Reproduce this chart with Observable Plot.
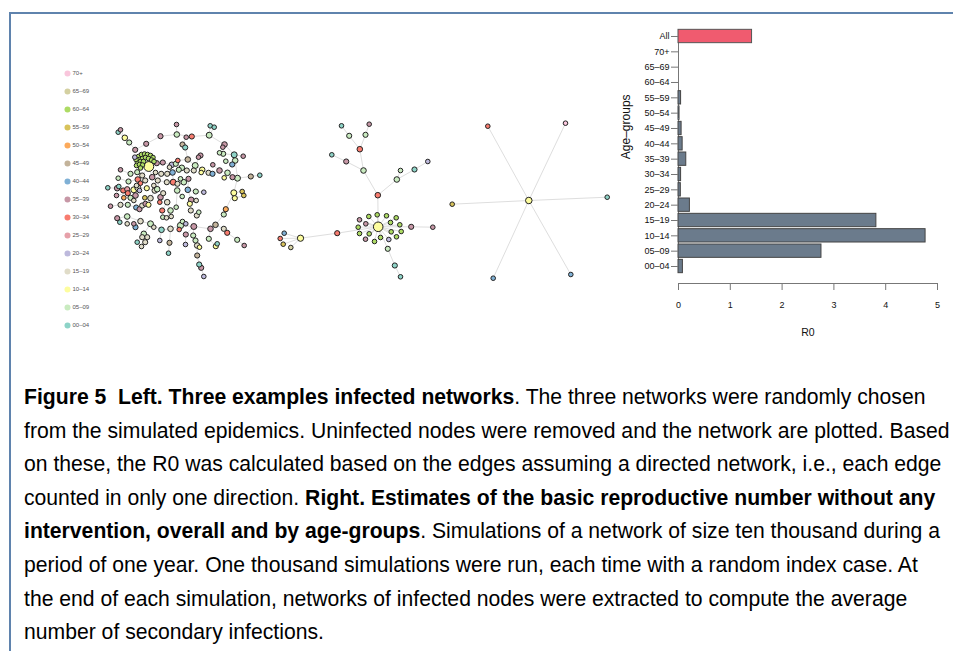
<!DOCTYPE html>
<html><head><meta charset="utf-8">
<script src="https://cdn.jsdelivr.net/npm/d3@7"></script>
<script src="https://cdn.jsdelivr.net/npm/@observablehq/plot@0.6"></script>
<style>
html,body{margin:0;padding:0;background:#fff;}
#page{position:relative;width:953px;height:651px;overflow:hidden;background:#fff;}
#frame{position:absolute;left:9px;top:12px;width:960px;height:660px;border-top:2px solid #5f83ad;border-left:2px solid #5f83ad;}
.layer{position:absolute;left:0;top:0;}
#caption{position:absolute;left:24px;top:380px;font-family:"Liberation Sans",Arial,sans-serif;font-size:18px;line-height:33.6px;color:#000;white-space:nowrap;}
#caption .ln{display:block;}
</style></head>
<body><div id="page"><div id="frame"></div><div id="legend" class="layer"></div><div id="nets" class="layer"></div><div id="bars" class="layer"></div>
<div id="caption">
<div class="ln"><span id="l1"><b>Figure 5&nbsp; Left. Three examples infected networks</b>. The three networks were randomly chosen</span></div>
<div class="ln"><span id="l2">from the simulated epidemics. Uninfected nodes were removed and the network are plotted. Based</span></div>
<div class="ln"><span>on these, the R0 was calculated based on the edges assuming a directed network, i.e., each edge</span></div>
<div class="ln"><span>counted in only one direction. <b>Right. Estimates of the basic reproductive number without any</b></span></div>
<div class="ln"><span><b>intervention, overall and by age-groups</b>. Simulations of a network of size ten thousand during a</span></div>
<div class="ln"><span>period of one year. One thousand simulations were run, each time with a random index case. At</span></div>
<div class="ln"><span>the end of each simulation, networks of infected nodes were extracted to compute the average</span></div>
<div class="ln"><span>number of secondary infections.</span></div>
</div>
</div>
<script>
// ---------- data ----------
const ageGroups = ["00–04","05–09","10–14","15–19","20–24","25–29","30–34","35–39","40–44","45–49","50–54","55–59","60–64","65–69","70+"];
const ageColors = ["#8dd3c7","#c9ebc0","#fdfd9e","#e0dcc8","#bdb9dc","#e6a0a9","#f87c6f","#c797a6","#7fb0d5","#c3b39a","#fcaa5b","#d8c35b","#addb64","#d4d0a1","#f9c6dc"];

const r0Groups = ["All","70+","65–69","60–64","55–59","50–54","45–49","40–44","35–39","30–34","25–29","20–24","15–19","10–14","05–09","00–04"];
const r0Values = [1.42,0,0,0,0.05,0.02,0.06,0.08,0.15,0.05,0.045,0.22,3.82,4.77,2.76,0.085];
const r0Ticks = [0,1,2,3,4,5];

// infection networks: each chain is a list of nodes [layoutX, layoutY, ageIndex]; consecutive nodes are linked
const net1Chains = [
[[134.7,149.3,7],[145.7,143.3,7],[160,135.7,7],[176.3,134,1],[191.3,136,6],[208.7,134.7,1],[224,144,7],[233.7,154.3,0],[234.7,160,1],[237,177.7,1],[233.3,192.3,2],[225.3,208.7,10],[223.3,214,1],[215,224.3,9],[210,228.3,7],[193.3,226,7],[180,225,1],[170,228.3,3],[161,229.3,0],[150,223.3,1],[140,220.7,3],[126.7,216,1],[116.7,217.7,7]],
[[176,124,7],[176.3,134,1]],
[[117.7,131.7,0],[124.3,137.3,2],[128.7,142,1],[134.7,149.3,7]],
[[120,129.3,7],[124.3,137.3,2]],
[[209.7,125.3,0],[208.7,134.7,1]],
[[213.7,126.7,0],[208.7,134.7,1]],
[[185.7,136.7,7],[182,144,9],[184.7,147,0],[187.3,159,9],[194.7,165,1]],
[[222.3,146.7,7],[224,144,7]],
[[219,152.3,1],[222.7,153.3,1],[233.7,154.3,0]],
[[242.7,155.7,7],[233.7,154.3,0]],
[[198,156.7,7],[200,155,7],[194.7,165,1]],
[[177.3,160,6],[187.3,159,9]],
[[225.3,160.7,1],[231.7,164,8],[234.7,160,1]],
[[237,177.7,1],[250.3,176,9],[259.3,174.7,0]],
[[223.7,177.3,2],[227,172.3,1],[232,176.7,7],[237,177.7,1]],
[[212.3,164.3,7],[219,170,7],[227,172.3,1]],
[[241.7,191,11],[233.3,192.3,2]],
[[243.3,195,11],[234.3,197.7,2],[233.3,192.3,2]],
[[194.7,165,1],[201.7,169.3,2],[208,172.3,3],[212,173.3,8],[219,170,7]],
[[200.7,172,2],[201.7,169.3,2]],
[[193.3,170,3],[194.7,165,1]],
[[148.3,166,2],[138,156,12]],[[148.3,166,2],[141,154,12]],[[148.3,166,2],[144,153.5,12]],[[148.3,166,2],[147,154,12]],
[[148.3,166,2],[150,155,12]],[[148.3,166,2],[152.5,157,12]],[[148.3,166,2],[139,159,12]],[[148.3,166,2],[142,158,12]],
[[148.3,166,2],[145,157,12]],[[148.3,166,2],[148,158,12]],[[148.3,166,2],[151,159.5,12]],[[148.3,166,2],[137,162,12]],
[[148.3,166,2],[140,161,12]],[[148.3,166,2],[143,161,12]],[[148.3,166,2],[136,165,12]],[[148.3,166,2],[139,164,12]],
[[148.3,166,2],[142,164.5,12]],[[148.3,166,2],[140,167.5,12]],[[148.3,166,2],[153.5,161,12]],[[148.3,166,2],[135.5,159,12]],
[[148.3,166,2],[134.3,156.7,4]],
[[148.3,166,2],[156.3,162.7,7],[162.3,162,7],[171.3,164.3,4],[175.3,163.3,1],[181.3,167.3,1],[186.3,170,3],[193.3,170,3]],
[[169,166.7,3],[171.3,164.3,4]],
[[178.3,169.3,1],[181.3,167.3,1]],
[[148.3,166,2],[151.7,176.7,7],[155,172,3]],
[[148.3,166,2],[141.7,175,3],[136.7,171.7,1],[130,173.3,1],[120,169.3,7]],
[[117.7,177.7,1],[128,181,1],[137.3,179,6],[144.7,180,3],[151.7,176.7,7]],
[[107.3,187.3,0],[116.7,187.7,7],[122.7,190,6],[126.7,188.7,5],[133.3,189.3,2],[137.3,187.3,3],[146.3,187.7,2],[154.3,190,3],[156.7,188.7,1],[160.7,173.3,3],[166.7,173.3,3],[172,172,8],[178.3,169.3,1]],
[[118.3,186,0],[116.7,187.7,7]],
[[140,182.7,6],[137.3,179,6]],
[[136,185,3],[133.3,189.3,2]],
[[139,190,4],[137.3,187.3,3]],
[[116,195,7],[127.3,192.7,6],[133.3,189.3,2]],
[[123.3,197.3,10],[130,197.3,1],[135,195,7],[137.3,187.3,3]],
[[133.3,200,3],[135,195,7]],
[[110,205.7,7],[120,204.3,3],[127.3,204.3,1],[135.7,207,8],[139,208.7,7],[141.7,205,3],[145,203.3,7],[148,204.3,2],[150,197.7,3],[154.3,190,3]],
[[144.3,197.3,11],[150,197.7,3]],
[[160,196.7,7],[162.7,192.7,3],[156.7,188.7,1]],
[[159.3,201.7,6],[160,196.7,7]],
[[161.7,210,6],[166.7,201.7,3],[160,196.7,7]],
[[162.3,216.7,1],[161.7,210,6]],
[[170.7,216,3],[170,210,1],[166.7,201.7,3]],
[[166,217.3,3],[170,210,1]],
[[175.7,206.7,1],[176.7,190,1],[172.7,181.7,6],[172,172,8]],
[[181.7,196,1],[176.7,190,1]],
[[180,178.3,1],[183.3,181.7,1],[177,183.3,3],[172.7,181.7,6]],
[[188,178.3,7],[183.3,181.7,1]],
[[153.3,185,3],[157.3,180,3],[166.3,181.7,3],[172.7,181.7,6]],
[[203.3,191.7,4],[195.3,191,1],[187.3,189.3,8],[188,178.3,7]],
[[190.3,210,3],[189.3,203.3,2],[190.7,199.3,7],[187.3,189.3,8]],
[[195.7,200,3],[190.7,199.3,7]],
[[198.3,211.7,1],[196.3,215,3],[190.3,210,3]],
[[119.3,221.7,0],[116.7,217.7,7]],
[[126.7,223.3,3],[126.7,216,1]],
[[133.3,223.3,7],[135,226.7,8],[140,220.7,3]],
[[141,246,3],[144.7,241.7,3],[146.7,236.7,3],[143.3,233.3,1],[150,223.3,1]],
[[136.7,241.7,0],[141.7,236.7,3],[143.3,233.3,1]],
[[153.3,226.7,3],[150,223.3,1]],
[[159.3,240,4],[161,229.3,0]],
[[168,252.7,0],[169,242.3,9],[170,228.3,3]],
[[178.7,229,6],[180,225,1]],
[[182,221,1],[180,225,1]],
[[185.3,223.3,4],[180,225,1]],
[[185,244,4],[185.3,234,7],[193.3,226,7]],
[[199,246.7,2],[196.7,245,3],[195,240,1],[192.7,235,1],[193.3,226,7]],
[[203.3,276,4],[200.7,267.3,7],[198.7,264,0],[196.7,255,9],[196.7,245,3]],
[[216.7,243.3,0],[215.3,245.7,2],[208.3,238.3,1],[210,228.3,7]],
[[243.7,245,7],[236.7,239.3,1],[226.7,232.3,6],[223.3,228.3,3],[215,224.3,9]]
];

const net2Chains = [
[[341,125.3,0],[348.7,135.3,1],[359.3,148.7,6]],
[[368.7,123.7,7],[365,134.3,1],[359.3,148.7,6],[363,170,1],[377.3,194.7,6],[377.7,226.3,2]],
[[331.3,154.3,0],[345.7,161,7],[363,170,1]],
[[427.3,161,4],[414,169,0],[396.3,179,1],[377.3,194.7,6]],
[[400,170,1],[396.3,179,1]],
[[377.7,226.3,2],[359,219.3,7]],[[377.7,226.3,2],[368.3,216,12]],[[377.7,226.3,2],[376.7,214.3,12]],
[[377.7,226.3,2],[386,215.3,12]],[[377.7,226.3,2],[395.7,217.3,12]],[[377.7,226.3,2],[357.7,226.7,12]],
[[377.7,226.3,2],[365.3,223.3,7]],[[377.7,226.3,2],[390,222,12]],[[377.7,226.3,2],[399.3,224.3,12]],
[[377.7,226.3,2],[359,233,12]],[[377.7,226.3,2],[368.7,233.3,12]],[[377.7,226.3,2],[390.7,231.3,12]],
[[377.7,226.3,2],[400.7,231,12]],[[377.7,226.3,2],[365,238.7,7]],[[377.7,226.3,2],[374,241,12]],
[[377.7,226.3,2],[380,237,12]],[[377.7,226.3,2],[388.3,239,4]],[[377.7,226.3,2],[396,236.3,12]],
[[377.7,226.3,2],[410.7,226.3,7],[432.3,226.7,7]],
[[377.7,226.3,2],[387.3,248.3,1],[394.3,265,0],[400,276.3,0]],
[[377.7,226.3,2],[336.7,232.7,6],[300,237.7,2]],
[[300,237.7,2],[283.7,232.7,8]],[[300,237.7,2],[279.7,238,6]],
[[300,237.7,2],[282.7,243.7,11]],[[300,237.7,2],[290.3,247,13]]
];

const net3Chains = [
[[528.3,200,2],[487.3,125.7,6]],[[528.3,200,2],[565,122.7,14]],[[528.3,200,2],[451.7,203.7,11]],
[[528.3,200,2],[606.7,196.7,0]],[[528.3,200,2],[492.7,277.7,8]],[[528.3,200,2],[570.3,274,8]]
];

// ---------- build tables ----------
function buildNetwork(chains, id) {
  const nodes = new Map(); const links = [];
  for (const chain of chains) {
    chain.forEach(([x, y, a], i) => {
      const k = x + "," + y;
      if (!nodes.has(k)) nodes.set(k, {net: id, x, y, age: ageGroups[a], degree: 0});
      if (i > 0) {
        const [px, py] = chain[i - 1];
        links.push({net: id, x1: px, y1: py, x2: x, y2: y});
        nodes.get(k).degree++;
        nodes.get(px + "," + py).degree++;
      }
    });
  }
  return {nodes: [...nodes.values()], links};
}
const nets = [net1Chains, net2Chains, net3Chains].map((c, i) => buildNetwork(c, i + 1));
const allNodes = nets.flatMap(n => n.nodes);
const allLinks = nets.flatMap(n => n.links);
const r0Data = r0Groups.map((g, i) => ({group: g, value: r0Values[i]}));

const font = "'Liberation Sans', Arial, Helvetica, sans-serif";

// ---------- legend ----------
const legend = Plot.plot({
  width: 130, height: 340, marginLeft: 67, marginRight: 0, marginTop: 0, marginBottom: 0,
  style: {background: "none", overflow: "visible", fontFamily: font},
  y: {type: "point", domain: ageGroups.slice().reverse(), range: [73, 325], padding: 0, axis: null},
  color: {domain: ageGroups, range: ageColors},
  marks: [
    Plot.dot(ageGroups, {y: d => d, fill: d => d, r: 3, frameAnchor: "left"}),
    Plot.text(ageGroups, {y: d => d, text: d => d, frameAnchor: "left", dx: 5, textAnchor: "start", fontSize: 6, fill: "#555"})
  ]
});
document.getElementById("legend").append(legend);

// ---------- networks ----------
const netPlot = Plot.plot({
  width: 620, height: 300, margin: 0,
  style: {background: "none", overflow: "visible"},
  x: {domain: [0, 620], range: [0, 620], axis: null},
  y: {domain: [0, 300], range: [0, 300], axis: null},
  color: {domain: ageGroups, range: ageColors},
  r: {type: "sqrt", domain: [1, 25], range: [2.3, 5]},
  marks: [
    Plot.link(allLinks, {x1: "x1", y1: "y1", x2: "x2", y2: "y2", stroke: "#dedede", strokeWidth: 1}),
    Plot.dot(allNodes, {x: "x", y: "y", r: "degree", fill: "age", stroke: "#222", strokeWidth: 1})
  ]
});
document.getElementById("nets").append(netPlot);

// ---------- R0 bars ----------
const bars = Plot.plot({
  width: 953, height: 345,
  marginLeft: 678, marginRight: 16, marginTop: 28.33, marginBottom: 62, insetBottom: 9.33,
  style: {background: "none", overflow: "visible", fontFamily: font, fontSize: "9px", color: "#111"},
  x: {domain: [0, 5], axis: null},
  y: {type: "band", domain: r0Groups, paddingInner: 0.13, paddingOuter: 0.065, round: false, axis: null},
  marks: [
    Plot.ruleX([0], {y1: () => "All", y2: () => "00–04", stroke: "#777", insetTop: 6.67, insetBottom: 6.67}),
    Plot.barX(r0Data.filter(d => d.group !== "All"), {x: "value", y: "group", fill: "#6b7b8c", stroke: "#444", strokeWidth: 1}),
    Plot.barX(r0Data.filter(d => d.group === "All"), {x: "value", y: "group", fill: "#f05b6f", stroke: "#555", strokeWidth: 1}),
    Plot.axisY({tickSize: 7, tickPadding: 2, fontSize: 9, label: null, stroke: "#777", fill: "#111"}),
    Plot.axisX({ticks: r0Ticks, tickFormat: d => String(d), tickSize: 7, tickPadding: 11, fontSize: 9, label: null, stroke: "#777", fill: "#111"}),
    Plot.frame({anchor: "bottom", stroke: "#777"}),
    Plot.text(["R0"], {text: d => d, frameAnchor: "bottom", dy: 52, fontSize: 10.5, fill: "#111"}),
    Plot.text(["Age–groups"], {text: d => d, frameAnchor: "left", dx: -52, dy: 3, rotate: -90, fontSize: 12, fill: "#111"})
  ]
});
document.getElementById("bars").append(bars);

// fit caption width to reference line width
const l2 = document.getElementById("l2");
const w = l2.getBoundingClientRect().width;
document.getElementById("caption").style.fontSize = (18 * 926 / w) + "px";
</script>
</body></html>
